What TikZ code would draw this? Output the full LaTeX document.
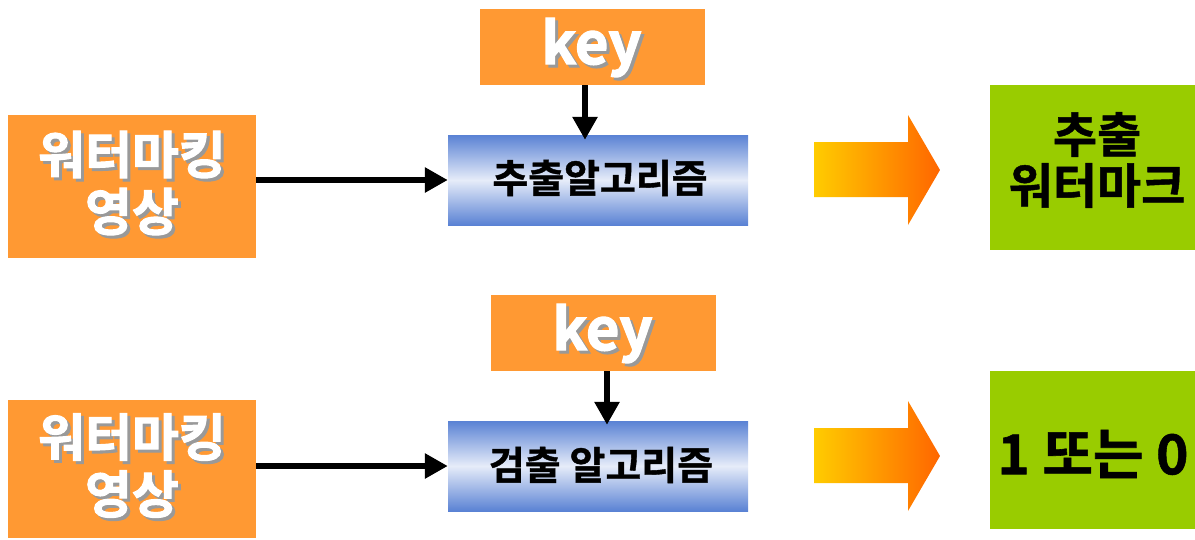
\documentclass[tikz,border=0pt]{standalone}
\usepackage{fontspec}
\usetikzlibrary{arrows.meta}
\newfontfamily\krb{Noto Sans CJK KR}[UprightFont=* Bold, UprightFeatures={FakeBold=1}]
\newfontfamily\krh{Noto Sans CJK KR}[UprightFont=* Bold, UprightFeatures={FakeBold=2}]
\definecolor{boxorange}{HTML}{FF9933}
\definecolor{boxgreen}{HTML}{99CC00}
\definecolor{algblue}{HTML}{5A82D4}
\definecolor{algpale}{HTML}{E6ECF9}
\definecolor{arrowyellow}{HTML}{FFCC00}
\definecolor{arroworange}{HTML}{FF6600}
\definecolor{shadowgray}{HTML}{999999}
\newcommand\shtext[1]{\makebox[0pt][l]{\hspace*{3pt}\raisebox{-3pt}{\textcolor{shadowgray}{#1}}}\textcolor{white}{#1}}
\tikzset{
  obox/.style={fill=boxorange, draw=none, inner sep=0pt},
  gbox/.style={fill=boxgreen, draw=none, inner sep=0pt},
  algbox/.style={draw=none, inner sep=0pt, minimum width=300pt, minimum height=90pt,
    top color=algblue, bottom color=algblue, middle color=algpale},
  srctext/.style={inner sep=0pt, align=center, font=\krh\fontsize{51}{57}\selectfont},
  keytext/.style={inner sep=0pt, font=\krh\fontsize{58}{60}\selectfont},
  algtext/.style={inner sep=0pt, font=\krb\fontsize{39}{42}\selectfont, text=black},
  restext/.style={inner sep=0pt, align=center, font=\krb\fontsize{48}{51}\selectfont, text=black},
  conn/.style={line width=6.5pt, -{Triangle[length=23pt,width=24pt]}},
  bigarrow/.style={left color=arrowyellow, right color=arroworange}
}
\begin{document}
\begin{tikzpicture}[x=1pt,y=-1pt]
\useasboundingbox (0,0) rectangle (1195,539);

% ---- top row ----
\node[obox, minimum width=248pt, minimum height=143pt] (src1) at (132,186.5) {};
\node[srctext] (src1t) at ([yshift=2pt]src1.center) {\shtext{워터마킹}\\\shtext{영상}};

\node[obox, minimum width=225pt, minimum height=76pt] (key1) at (592.5,47) {};
\node[keytext] (key1t) at ([xshift=-1pt,yshift=-2pt]key1.center) {\shtext{key}};

\node[algbox] (alg1) at (598,180) {};
\node[algtext] (alg1t) at (600,178) {추출알고리즘};

\shade[bigarrow] (814,142) -- (908,142) -- (908,115) -- (940,170) -- (908,225) -- (908,197) -- (814,197) -- cycle;

\node[gbox, minimum width=205pt, minimum height=165pt] (res1) at (1092.5,167.5) {};
\node[restext] (res1t) at (1097,160) {추출\\워터마크};

\draw[conn] (src1.east |- alg1.west) -- (alg1.west);
\draw[conn] ([xshift=-7.5pt]key1.south) -- ([xshift=-13pt,yshift=-5pt]alg1.north);

% ---- bottom row ----
\node[obox, minimum width=248pt, minimum height=138pt] (src2) at (132,469) {};
\node[srctext] (src2t) at ([yshift=2pt]src2.center) {\shtext{워터마킹}\\\shtext{영상}};

\node[obox, minimum width=225pt, minimum height=76pt] (key2) at (603.5,333) {};
\node[keytext] (key2t) at ([xshift=-1pt,yshift=-2pt]key2.center) {\shtext{key}};

\node[algbox] (alg2) at (598,466) {};
\node[algtext] (alg2t) at (601,465) {검출 알고리즘};

\shade[bigarrow] (814,428) -- (908,428) -- (908,401) -- (940,456) -- (908,511) -- (908,483) -- (814,483) -- cycle;

\node[gbox, minimum width=205pt, minimum height=158pt] (res2) at (1092.5,450) {};
\node[restext, font=\krb\fontsize{55}{57}\selectfont] (res2t) at (1093,454) {1 또는 0};

\draw[conn] (src2.east |- alg2.west) -- (alg2.west);
\draw[conn] ([xshift=3.5pt]key2.south) -- ([xshift=9pt,yshift=-4pt]alg2.north);
\end{tikzpicture}
\end{document}
